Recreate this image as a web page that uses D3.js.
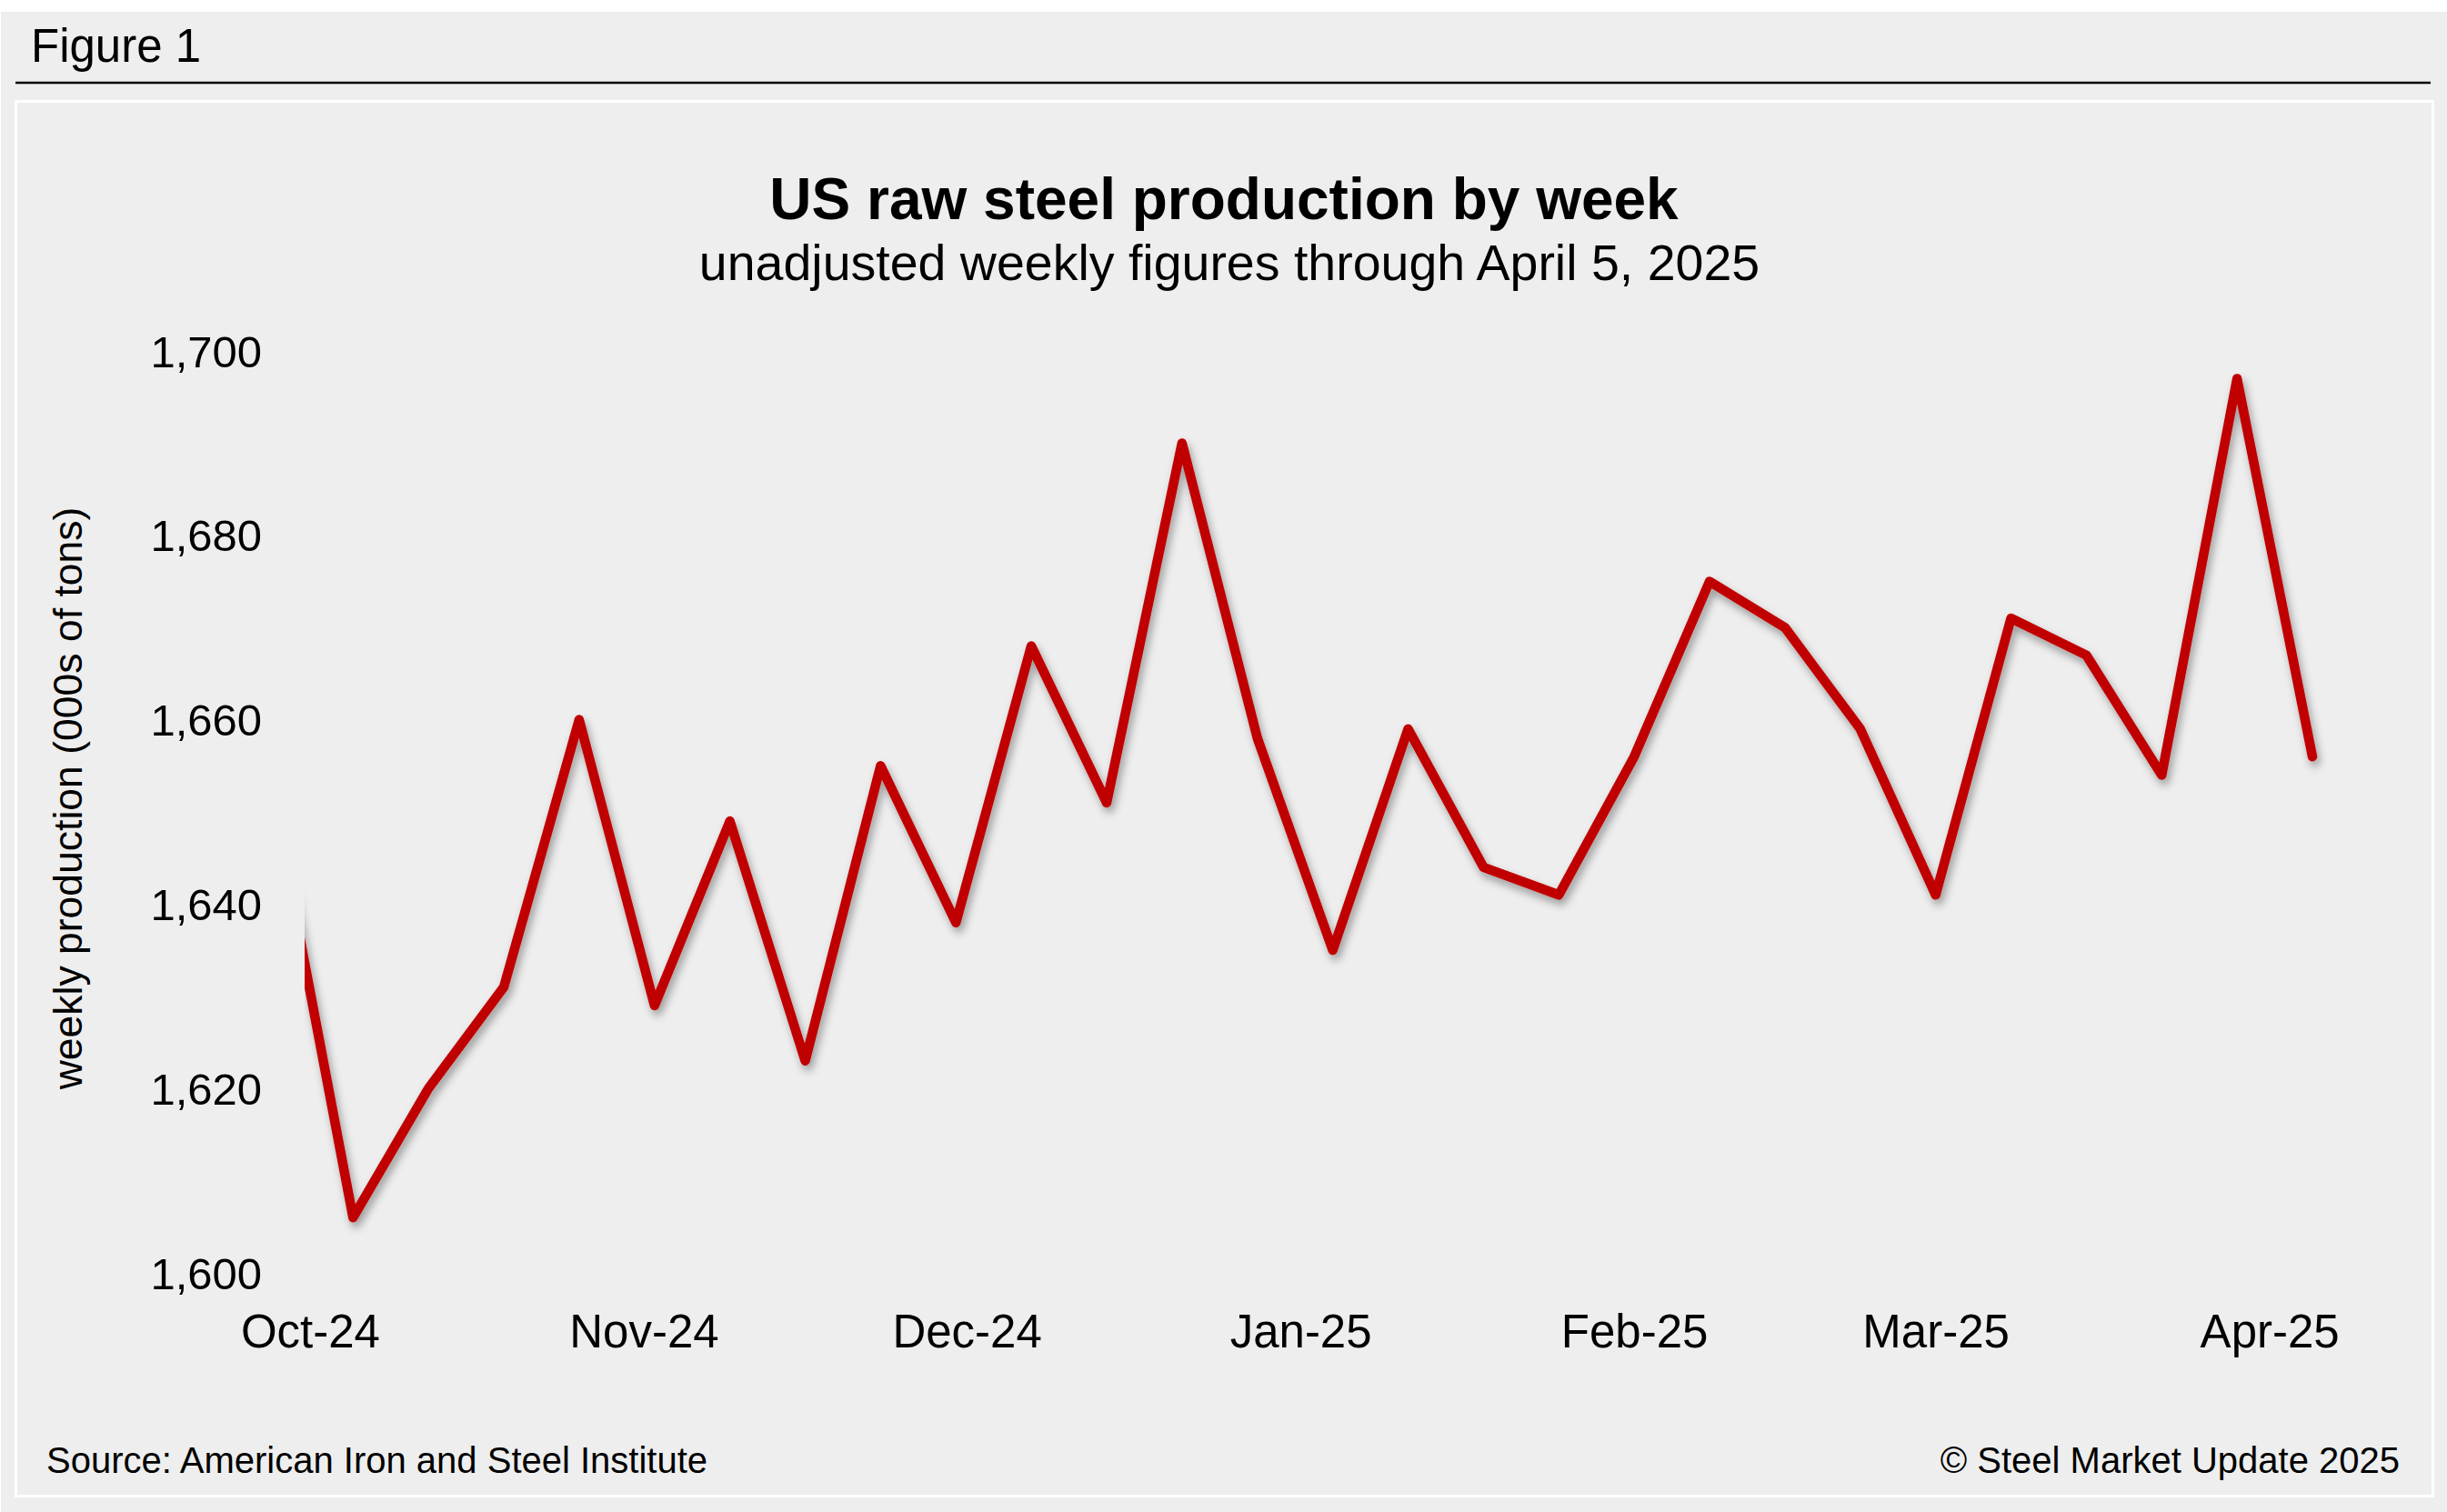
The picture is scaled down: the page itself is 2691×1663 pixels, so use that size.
<!DOCTYPE html>
<html>
<head>
<meta charset="utf-8">
<script src="https://cdn.jsdelivr.net/npm/d3@7"></script>
<style>
  html, body { margin: 0; padding: 0; background: #ffffff; }
  svg { display: block; }
  text { font-family: "Liberation Sans", Arial, Helvetica, sans-serif; fill: #000; }
</style>
</head>
<body>
<svg id="chart" width="2691" height="1663"></svg>
<script>
// ---- data ----
const weekEnding = ["2024-09-28","2024-10-05","2024-10-12","2024-10-19","2024-10-26",
  "2024-11-02","2024-11-09","2024-11-16","2024-11-23","2024-11-30",
  "2024-12-07","2024-12-14","2024-12-21","2024-12-28",
  "2025-01-04","2025-01-11","2025-01-18","2025-01-25",
  "2025-02-01","2025-02-08","2025-02-15","2025-02-22",
  "2025-03-01","2025-03-08","2025-03-15","2025-03-22","2025-03-29",
  "2025-04-05"];
const production = [1649, 1606, 1620, 1631, 1660,
  1629, 1649, 1623, 1655, 1638,
  1668, 1651, 1690, 1658,
  1635, 1659, 1644, 1641,
  1656, 1675, 1670, 1659,
  1641, 1671, 1667, 1654, 1697,
  1656];
const yTicks = [1600, 1620, 1640, 1660, 1680, 1700];
const monthTicks = ["2024-10-01","2024-11-01","2024-12-01","2025-01-01","2025-02-01","2025-03-01","2025-04-01"];
const figureLabel = "Figure 1";
const titleText = "US raw steel production by week";
const subtitleText = "unadjusted weekly figures through April 5, 2025";
const yAxisTitle = "weekly production (000s of tons)";
const sourceText = "Source: American Iron and Steel Institute";
const copyrightText = "\u00A9 Steel Market Update 2025";

// ---- setup ----
const parse = d3.timeParse("%Y-%m-%d");
const data = weekEnding.map((d, i) => ({ date: parse(d), value: production[i] }));

const svg = d3.select("#chart");
const W = 2691, H = 1663;

// backgrounds
svg.append("rect").attr("x", 1).attr("y", 13).attr("width", W - 1).attr("height", H - 13).attr("fill", "#eeeeee");
svg.append("line").attr("x1", 17).attr("x2", 2673).attr("y1", 91).attr("y2", 91)
  .attr("stroke", "#000").attr("stroke-width", 2.5);
svg.append("rect").attr("x", 17.5).attr("y", 111.5).attr("width", 2658).attr("height", 1534)
  .attr("fill", "#eeeeee").attr("stroke", "#ffffff").attr("stroke-width", 3);

svg.append("text").attr("x", 34).attr("y", 68).attr("font-size", 51).text(figureLabel);

svg.append("text").attr("x", 1346).attr("y", 241).attr("text-anchor", "middle")
  .attr("font-size", 64).attr("font-weight", "bold").text(titleText);
svg.append("text").attr("x", 1352).attr("y", 308).attr("text-anchor", "middle")
  .attr("font-size", 55.5).text(subtitleText);

// scales
const x = d3.scaleTime()
  .domain([new Date(2024, 8, 30, 12), parse("2025-04-05")])
  .range([335, 2543]);
const y = d3.scaleLinear().domain([1600, 1700]).range([1400, 386]);

// y axis labels
const yAxis = d3.axisLeft(y).tickValues(yTicks).tickFormat(d3.format(",")).tickSize(0).tickPadding(0);
const gy = svg.append("g").attr("transform", "translate(288,0)").call(yAxis);
gy.select(".domain").remove();
gy.selectAll("text").attr("font-size", 49).attr("font-family", "'Liberation Sans', Arial, sans-serif")
  .attr("fill", "#000").attr("dy", "0.35em").attr("x", 0);

// x axis labels
const xAxis = d3.axisBottom(x).tickValues(monthTicks.map(parse)).tickFormat(d3.timeFormat("%b-%y")).tickSize(0).tickPadding(0);
const gx = svg.append("g").attr("transform", "translate(0,1400)").call(xAxis);
gx.select(".domain").remove();
gx.selectAll("text").attr("font-size", 51).attr("font-family", "'Liberation Sans', Arial, sans-serif")
  .attr("fill", "#000").attr("dy", null).attr("y", 82);

// y axis title
svg.append("text").attr("transform", "translate(90,878) rotate(-90)").attr("text-anchor", "middle")
  .attr("font-size", 44.5).text(yAxisTitle);

// line with shadow, clipped at left edge
const defs = svg.append("defs");
defs.append("clipPath").attr("id", "plotClip").append("rect")
  .attr("x", x.range()[0]).attr("y", 300).attr("width", 2400).attr("height", 1200);
const f = defs.append("filter").attr("id", "shadow").attr("x", "-10%").attr("y", "-10%").attr("width", "120%").attr("height", "120%");
f.append("feDropShadow").attr("dx", 3).attr("dy", 6).attr("stdDeviation", 5)
  .attr("flood-color", "#000").attr("flood-opacity", 0.35);

const line = d3.line().x(d => x(d.date)).y(d => y(d.value));
svg.append("g").attr("clip-path", "url(#plotClip)")
  .append("path").datum(data).attr("d", line)
  .attr("fill", "none").attr("stroke", "#c00000").attr("stroke-width", 10.5)
  .attr("stroke-linejoin", "round").attr("stroke-linecap", "round")
  .attr("filter", "url(#shadow)");

// footer
svg.append("text").attr("x", 51).attr("y", 1620).attr("font-size", 40).text(sourceText);
svg.append("text").attr("x", 2639).attr("y", 1620).attr("text-anchor", "end").attr("font-size", 40).text(copyrightText);
</script>
</body>
</html>
